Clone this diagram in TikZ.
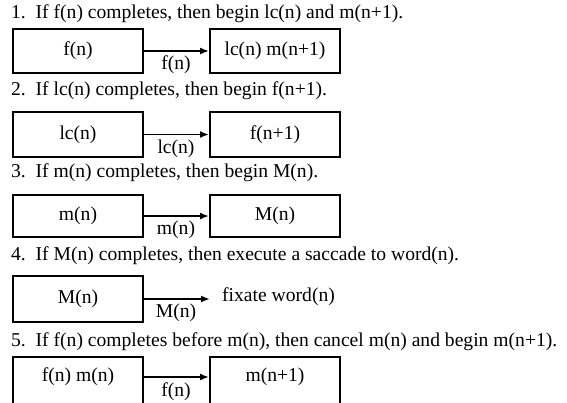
\documentclass[tikz,border=0pt]{standalone}
\usepackage{fontspec}
\setmainfont{Liberation Serif}
\usetikzlibrary{arrows.meta}
\begin{document}
\begin{tikzpicture}[x=1pt,y=-1pt,
  txt/.style={font=\fontsize{19.6}{24}\selectfont},
  title/.style={txt,anchor=west,inner sep=0pt},
  box/.style={txt,draw,line width=1.9pt,inner sep=0pt,minimum width=130pt,minimum height=44pt},
  flow/.style={line width=1.9pt,-{Latex[length=9pt,width=7pt]}},
  lab/.style={txt,inner sep=0pt}]
\useasboundingbox (0,0) rectangle (567,402);
\clip (0,0) rectangle (567,402);

% rule 1
\node[title] (t1) at (11,14) {1.\ \ If f(n) completes, then begin lc(n) and m(n+1).};
\node[box] (a1) at (78,51) {f(n)};
\node[box] (b1) at (275,51) {lc(n) m(n+1)};
\draw[flow] (a1) -- (b1);
\node[lab] (l1) at (176,65) {f(n)};

% rule 2
\node[title] (t2) at (11,91) {2.\ \ If lc(n) completes, then begin f(n+1).};
\node[box,minimum height=45pt] (a2) at (78,134.5) {lc(n)};
\node[box,minimum height=45pt] (b2) at (275,134.5) {f(n+1)};
\draw[flow] (a2) -- (b2);
\node[lab] (l2) at (176,148.5) {lc(n)};

% rule 3
\node[title] (t3) at (11,173) {3.\ \ If m(n) completes, then begin M(n).};
\node[box,minimum height=42pt] (a3) at (78,216) {m(n)};
\node[box,minimum height=42pt] (b3) at (275,216) {M(n)};
\draw[flow] (a3) -- (b3);
\node[lab] (l3) at (176,230) {m(n)};

% rule 4
\node[title] (t4) at (11,256) {4.\ \ If M(n) completes, then execute a saccade to word(n).};
\node[box,minimum height=46pt] (a4) at (78,299) {M(n)};
\node[lab,anchor=west] (b4) at (222,297) {fixate word(n)};
\draw[flow,shorten >=12pt] (a4) -- (b4.west|-a4);
\node[lab] (l4) at (176,313) {M(n)};

% rule 5 (boxes run past the lower edge)
\node[title] (t5) at (11,342) {5.\ \ If f(n) completes before m(n), then cancel m(n) and begin m(n+1).};
\node[box,minimum height=52pt] (a5) at (78,383) {};
\node[txt] (a5t) at (78,377) {f(n) m(n)};
\node[box,minimum height=52pt] (b5) at (275,383) {};
\node[txt] (b5t) at (275,377) {m(n+1)};
\draw[flow] (a5.east|-a5t) -- (b5.west|-a5t);
\node[lab] (l5) at (176,392) {f(n)};
\end{tikzpicture}
\end{document}
